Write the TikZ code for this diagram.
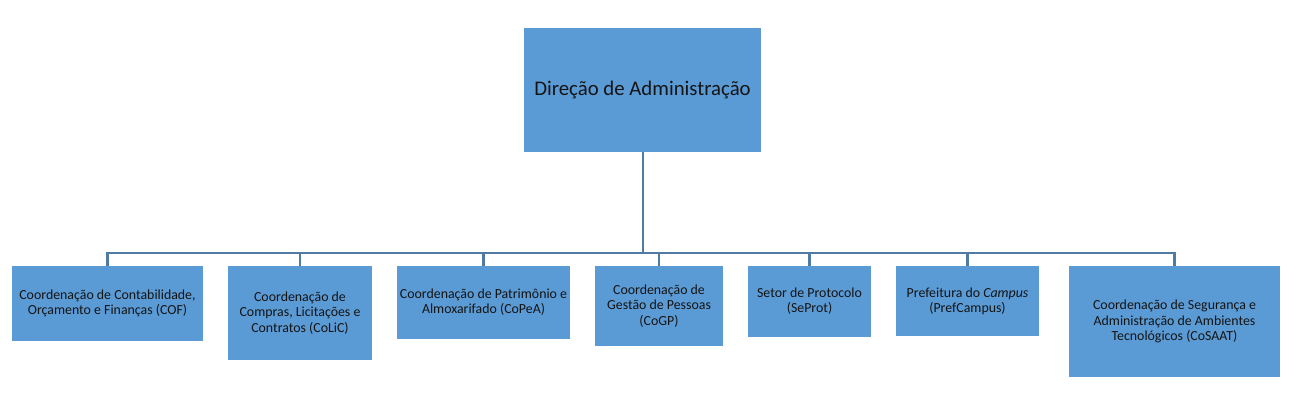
\documentclass[tikz,border=0pt]{standalone}
\usepackage{fontspec}
\setmainfont{Carlito}
\definecolor{boxblue}{RGB}{91,155,213}
\definecolor{linkblue}{RGB}{80,124,164}
\definecolor{txt}{RGB}{20,20,20}
\begin{document}
\begin{tikzpicture}[x=0.75pt,y=-0.75pt,
  unit box/.style={fill=boxblue,draw=none,inner sep=0pt,align=center,text=txt,font=\fontsize{10.4}{11.4}\selectfont},
  link/.style={draw=linkblue,line width=1.6pt}]
\useasboundingbox (0,0) rectangle (1291,410);
\node[unit box,minimum width=237*0.75pt,minimum height=124*0.75pt,font=\fontsize{15.6}{18}\selectfont] (top) at (642.5,90) {Direção de Administração};
\node[unit box,minimum width=191*0.75pt,minimum height=75*0.75pt] (b1) at (107.5,303.5) {Coordenação de Contabilidade,\\Orçamento e Finanças (COF)};
\node[unit box,minimum width=144*0.75pt,minimum height=94*0.75pt] (b2) at (300,313) {Coordenação de\\Compras, Licitações e\\Contratos (CoLiC)};
\node[unit box,minimum width=173*0.75pt,minimum height=73*0.75pt] (b3) at (483.5,302.5) {Coordenação de Patrimônio e\\Almoxarifado (CoPeA)};
\node[unit box,minimum width=128*0.75pt,minimum height=80*0.75pt] (b4) at (659,306) {Coordenação de\\Gestão de Pessoas\\(CoGP)};
\node[unit box,minimum width=123*0.75pt,minimum height=71*0.75pt] (b5) at (809.5,301.5) {Setor de Protocolo\\(SeProt)};
\node[unit box,minimum width=143*0.75pt,minimum height=70*0.75pt] (b6) at (967.5,301) {Prefeitura do \textit{Campus}\\(PrefCampus)};
\node[unit box,minimum width=211*0.75pt,minimum height=111*0.75pt] (b7) at (1174.5,321.5) {Coordenação de Segurança e\\Administração de Ambientes\\Tecnológicos (CoSAAT)};
\coordinate (bar) at (643,253);
\draw[link] (top.south -| bar) -- (bar);
\draw[link] (b1.north) -- (b1.north |- bar) -- (b7.north |- bar) -- (b7.north);
\foreach \b in {b2,b3,b4,b5,b6}
  \draw[link] (\b.north) -- (\b.north |- bar);
\end{tikzpicture}
\end{document}
